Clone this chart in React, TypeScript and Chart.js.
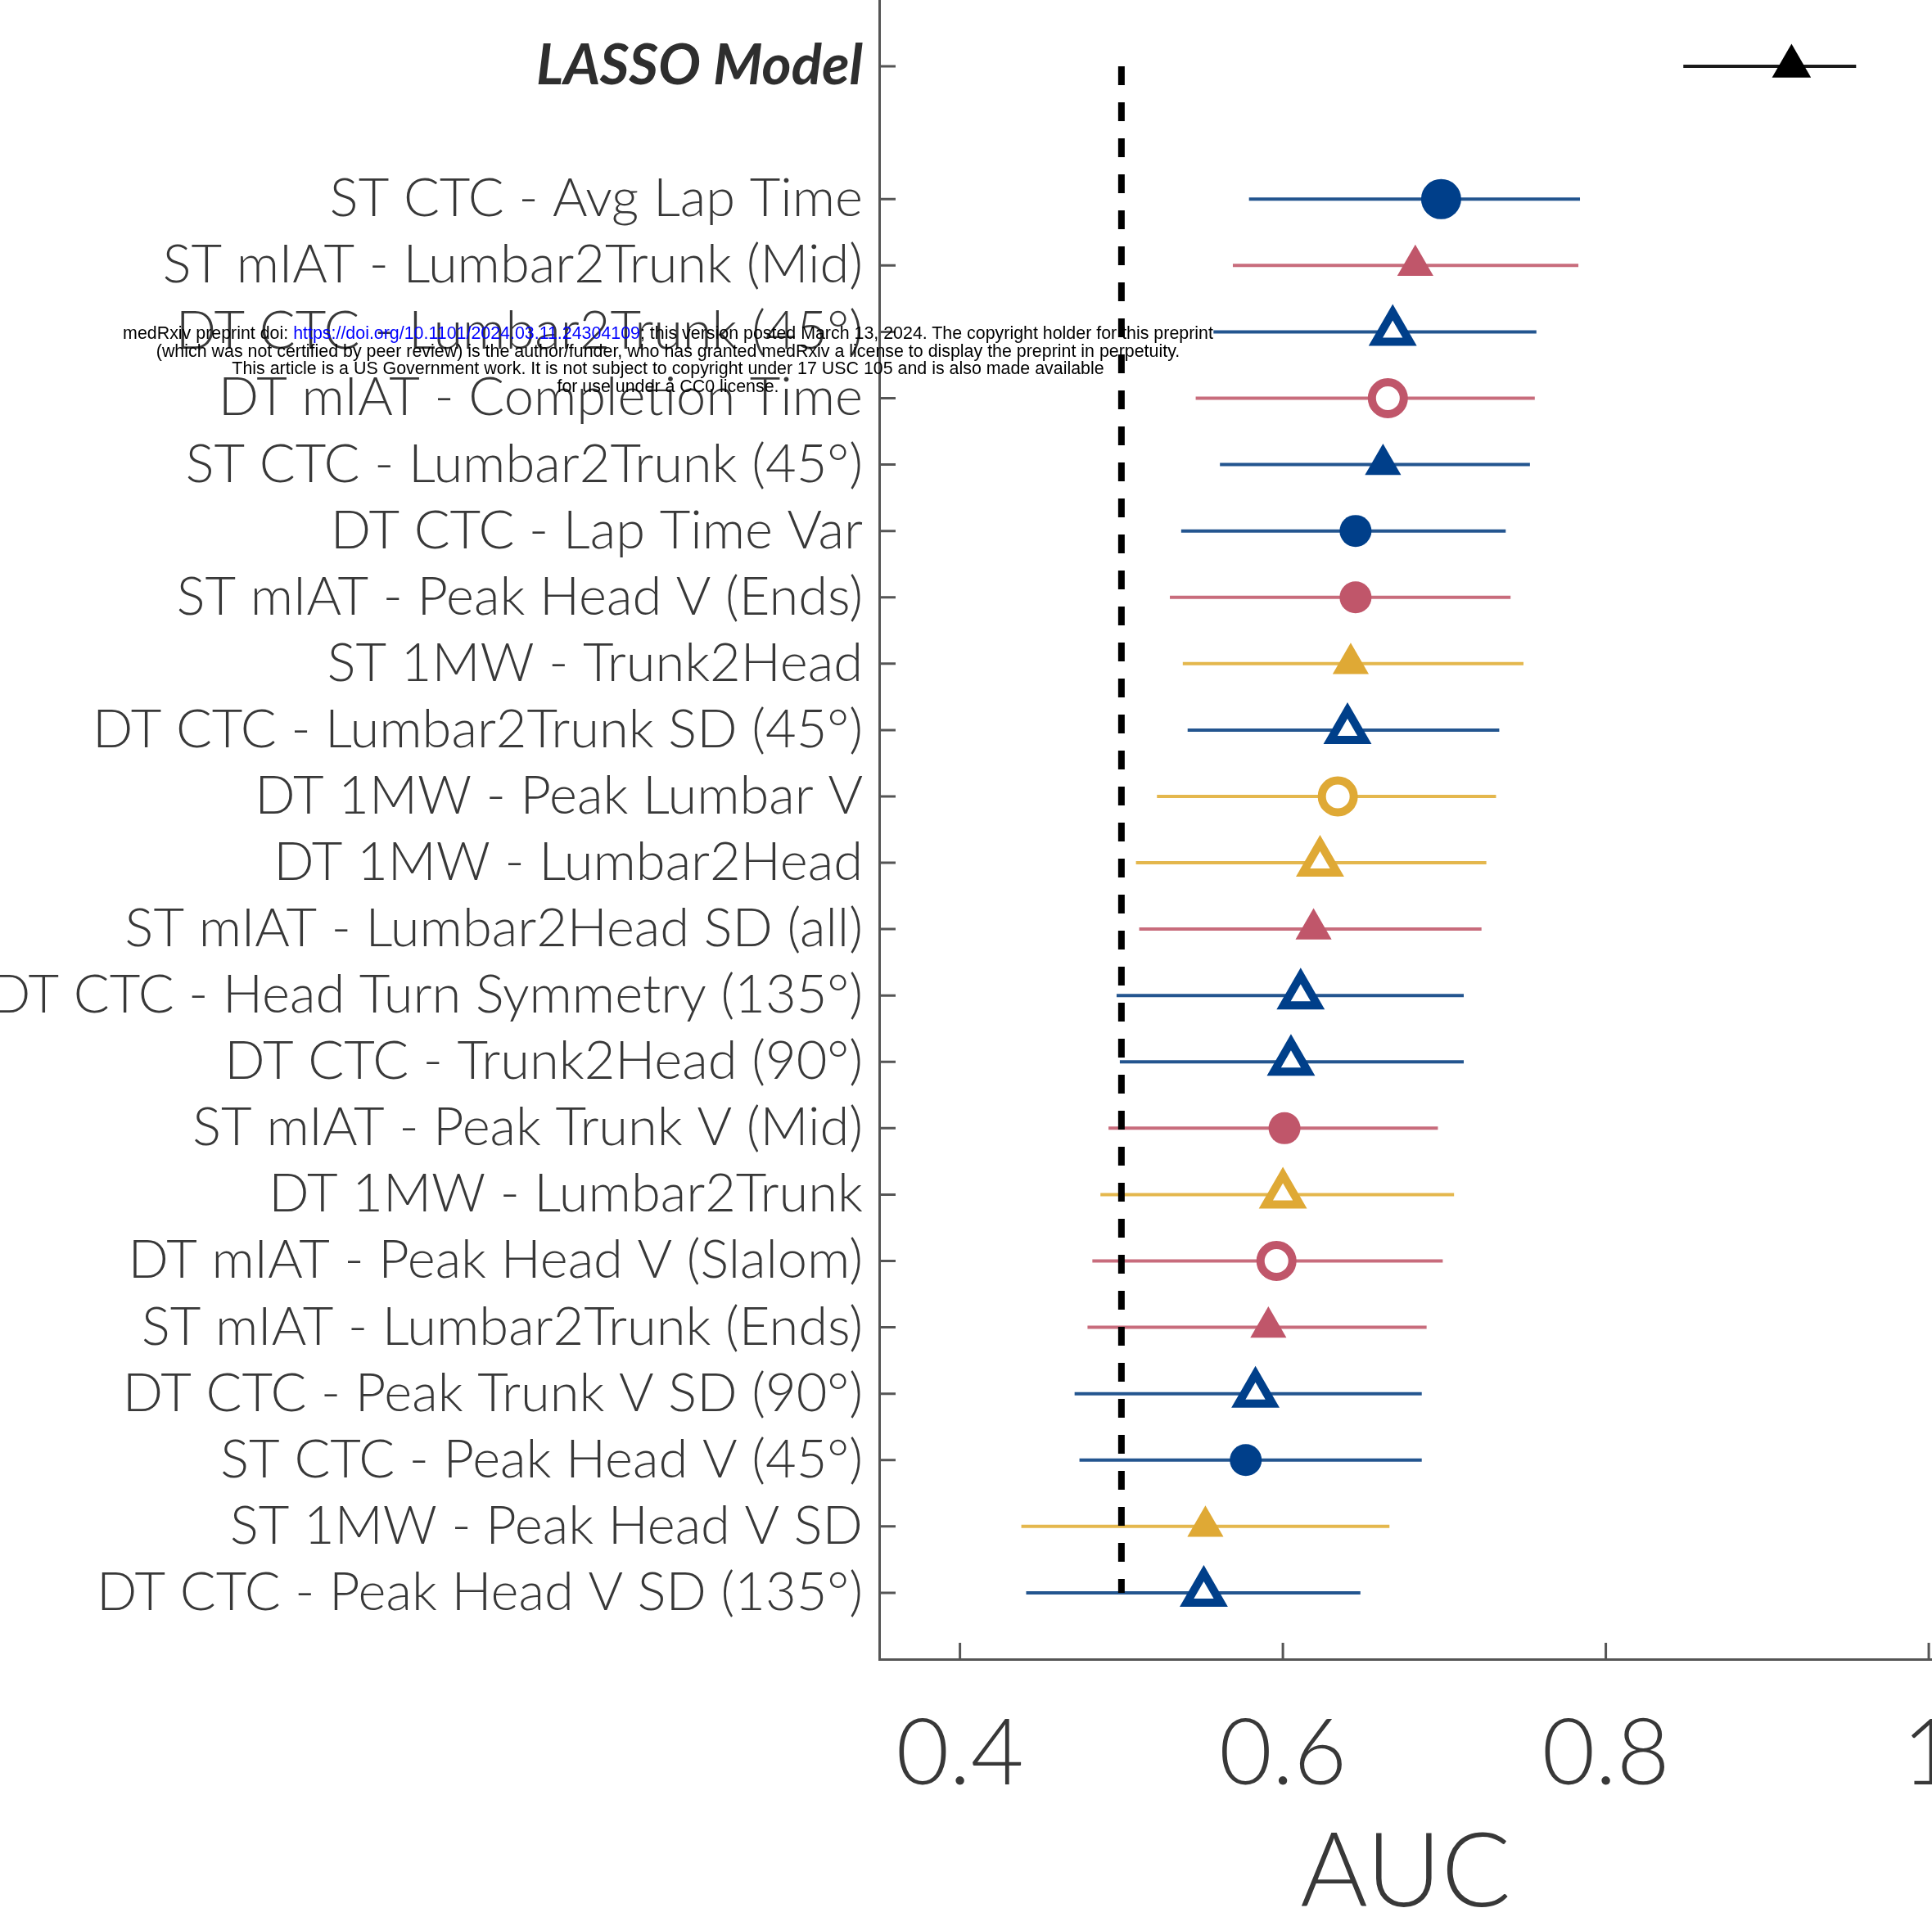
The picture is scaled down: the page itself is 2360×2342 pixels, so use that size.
import React, { useEffect, useRef } from 'react';
import { Chart, registerables } from 'chart.js';

Chart.register(...registerables);

// ---------- data ----------
const MODELS = [
  'LASSO Model',
  'ST CTC - Avg Lap Time',
  'ST mIAT - Lumbar2Trunk (Mid)',
  'DT CTC - Lumbar2Trunk (45°)',
  'DT mIAT - Completion Time',
  'ST CTC - Lumbar2Trunk (45°)',
  'DT CTC - Lap Time Var',
  'ST mIAT - Peak Head V (Ends)',
  'ST 1MW - Trunk2Head',
  'DT CTC - Lumbar2Trunk SD (45°)',
  'DT 1MW - Peak Lumbar V',
  'DT 1MW - Lumbar2Head',
  'ST mIAT - Lumbar2Head SD (all)',
  'DT CTC - Head Turn Symmetry (135°)',
  'DT CTC - Trunk2Head (90°)',
  'ST mIAT - Peak Trunk V (Mid)',
  'DT 1MW - Lumbar2Trunk',
  'DT mIAT - Peak Head V (Slalom)',
  'ST mIAT - Lumbar2Trunk (Ends)',
  'DT CTC - Peak Trunk V SD (90°)',
  'ST CTC - Peak Head V (45°)',
  'ST 1MW - Peak Head V SD',
  'DT CTC - Peak Head V SD (135°)',
];

const AUC = [
  0.915, 0.698, 0.682, 0.668, 0.665, 0.662, 0.645, 0.645, 0.642, 0.640, 0.634, 0.623,
  0.619, 0.611, 0.605, 0.601, 0.600, 0.596, 0.591, 0.583, 0.577, 0.552, 0.551,
];
const CI_LOW = [
  0.848, 0.579, 0.569, 0.557, 0.546, 0.561, 0.537, 0.530, 0.538, 0.541, 0.522, 0.509,
  0.511, 0.497, 0.499, 0.492, 0.487, 0.482, 0.479, 0.471, 0.474, 0.438, 0.441,
];
const CI_HIGH = [
  0.955, 0.784, 0.783, 0.757, 0.756, 0.753, 0.738, 0.741, 0.749, 0.734, 0.732, 0.726,
  0.723, 0.712, 0.712, 0.696, 0.706, 0.699, 0.689, 0.686, 0.686, 0.666, 0.648,
];
// marker kind: filled / open triangle or circle
const MARKER = [
  'triangle', 'circle', 'triangle', 'triangleOpen', 'circleOpen', 'triangle', 'circle',
  'circle', 'triangle', 'triangleOpen', 'circleOpen', 'triangleOpen', 'triangle',
  'triangleOpen', 'triangleOpen', 'circle', 'triangleOpen', 'circleOpen', 'triangle',
  'triangleOpen', 'circle', 'triangle', 'triangleOpen',
];
// row slot of each model on the y axis (one empty slot after the LASSO model)
const ROW = MODELS.map((_, k) => (k === 0 ? 0 : k + 1));
const ROW_LABELS = ['LASSO Model', '', ...MODELS.slice(1)];
const X_TICKS = [0.4, 0.6, 0.8, 1];
const X_MIN = 0.35;
const X_MAX = 1.002;
const CHANCE = 0.5;
const X_TITLE = 'AUC';

// ---------- styles ----------
const MARK_COLORS: Record<string, string> = {
  lasso: '#000000',
  CTC: '#003f8a',
  mIAT: '#c0566a',
  '1MW': '#dfa935',
};
const LINE_COLORS: Record<string, string> = {
  lasso: '#1a1a1a',
  CTC: '#23558f',
  mIAT: '#c86c7c',
  '1MW': '#e4b74d',
};
function groupOf(k: number): string {
  if (k === 0) return 'lasso';
  const name = MODELS[k];
  if (name.includes('CTC')) return 'CTC';
  if (name.includes('mIAT')) return 'mIAT';
  return '1MW';
}
const LABEL_FONT = 'Lato, "Liberation Sans", sans-serif';
const TEXT_COLOR = '#383838';
const AXIS_COLOR = '#555555';

const inwardTicks = {
  id: 'inwardTicks',
  afterDatasetsDraw(chart: any) {
    const { ctx, chartArea, scales } = chart;
    ctx.save();
    ctx.strokeStyle = AXIS_COLOR;
    ctx.lineWidth = 3;
    ctx.beginPath();
    ROW_LABELS.forEach((lab, i) => {
      if (!lab) return;
      const y = scales.y.getPixelForValue(i);
      ctx.moveTo(chartArea.left, y);
      ctx.lineTo(chartArea.left + 20, y);
    });
    X_TICKS.forEach((v) => {
      const x = scales.x.getPixelForValue(v);
      ctx.moveTo(x, chartArea.bottom);
      ctx.lineTo(x, chartArea.bottom - 20);
    });
    ctx.stroke();
    ctx.restore();
  },
};

export default function App() {
  const ref = useRef<HTMLCanvasElement | null>(null);

  useEffect(() => {
    document.body.style.margin = '0';
    const canvas = ref.current;
    if (!canvas) return;

    const barSets = MODELS.map((_, k) => ({
      type: 'scatter' as const,
      showLine: true,
      data: [
        { x: CI_LOW[k], y: ROW[k] },
        { x: CI_HIGH[k], y: ROW[k] },
      ],
      borderColor: LINE_COLORS[groupOf(k)],
      borderWidth: 4,
      pointRadius: 0,
      order: 3,
    }));

    const chanceSet = {
      type: 'scatter' as const,
      showLine: true,
      data: [
        { x: CHANCE, y: ROW[0] },
        { x: CHANCE, y: ROW[ROW.length - 1] },
      ],
      borderColor: '#000000',
      borderWidth: 8,
      borderDash: [23, 21],
      pointRadius: 0,
      order: 2,
    };

    const markerSet = {
      type: 'scatter' as const,
      data: MODELS.map((_, k) => ({ x: AUC[k], y: ROW[k] })),
      pointStyle: MARKER.map((m) => (m.startsWith('triangle') ? 'triangle' : 'circle')),
      pointRadius: MARKER.map((m, k) => {
        if (k === 0) return 27.5;
        if (k === 1) return 24.5;
        if (m === 'triangle') return 25.5;
        if (m === 'triangleOpen') return 24;
        return 19.5;
      }),
      pointBackgroundColor: MARKER.map((m, k) =>
        m.endsWith('Open') ? '#ffffff' : MARK_COLORS[groupOf(k)]
      ),
      pointBorderColor: MODELS.map((_, k) => MARK_COLORS[groupOf(k)]),
      pointBorderWidth: MARKER.map((m) => (m.endsWith('Open') ? 10 : 0)),
      order: 1,
    };

    const chart = new Chart(canvas, {
      type: 'scatter',
      data: { datasets: [...barSets, chanceSet, markerSet] as any },
      plugins: [inwardTicks],
      options: {
        animation: false,
        responsive: false,
        devicePixelRatio: 1,
        layout: { padding: 0, autoPadding: false },
        plugins: {
          legend: { display: false },
          tooltip: { enabled: false },
        },
        scales: {
          x: {
            type: 'linear',
            position: 'bottom',
            min: X_MIN,
            max: X_MAX,
            afterBuildTicks: (scale: any) => {
              scale.ticks = [X_MIN, ...X_TICKS, X_MAX].map((v) => ({ value: v }));
            },
            afterFit: (scale: any) => {
              scale.height = 315;
              scale.paddingLeft = 0;
              scale.paddingRight = 0;
            },
            grid: { display: false, drawTicks: false },
            border: { display: true, color: AXIS_COLOR, width: 3 },
            ticks: {
              padding: 50,
              maxRotation: 0,
              autoSkip: false,
              color: TEXT_COLOR,
              font: { family: LABEL_FONT, size: 112, weight: '300' },
              callback: (v: any) => (X_TICKS.includes(v) ? String(v) : null),
            },
            title: {
              display: true,
              text: X_TITLE,
              color: TEXT_COLOR,
              font: { family: LABEL_FONT, size: 126, weight: '300', lineHeight: 0.85 },
              padding: { top: 0, bottom: 0 },
            },
          },
          y: {
            type: 'linear',
            reverse: true,
            min: -1,
            max: ROW_LABELS.length,
            afterBuildTicks: (scale: any) => {
              const vals = [-1, ...ROW_LABELS.map((_, i) => i), ROW_LABELS.length];
              scale.ticks = vals.map((v) => ({ value: v }));
            },
            afterFit: (scale: any) => {
              scale.width = 1074;
              scale.paddingTop = 0;
              scale.paddingBottom = 0;
            },
            grid: { display: false, drawTicks: false },
            border: { display: true, color: AXIS_COLOR, width: 3 },
            ticks: {
              padding: 20,
              autoSkip: false,
              color: (ctx: any) => (ctx.tick && ctx.tick.value === 0 ? '#2e2e2e' : TEXT_COLOR),
              font: (ctx: any) =>
                ctx.tick && ctx.tick.value === 0
                  ? { family: LABEL_FONT, size: 69, style: 'italic', weight: 'bold' }
                  : { family: LABEL_FONT, size: 65, weight: '300' },
              callback: (v: any) => {
                const lab = ROW_LABELS[v as number];
                return lab === undefined ? null : lab;
              },
            },
          },
        },
      },
    });

    return () => chart.destroy();
  }, []);

  return (
    <div style={{ position: 'relative', width: 2360, height: 2342, overflow: 'hidden' }}>
      <canvas ref={ref} width={2360} height={2342} style={{ display: 'block' }} />
      <div
        style={{
          position: 'absolute',
          left: 0,
          top: 397,
          width: 1632,
          textAlign: 'center',
          fontFamily: '"Liberation Sans", Arial, sans-serif',
          fontSize: 21.4,
          lineHeight: '21.7px',
          color: '#000',
          whiteSpace: 'pre',
        }}
      >
        <div>
          medRxiv preprint doi:{' '}
          <span style={{ color: '#0000ff' }}>https://doi.org/10.1101/2024.03.11.24304109</span>
          ; this version posted March 13, 2024. The copyright holder for this preprint
        </div>
        <div>
          (which was not certified by peer review) is the author/funder, who has granted medRxiv a license to display the preprint in perpetuity.
        </div>
        <div>
          This article is a US Government work. It is not subject to copyright under 17 USC 105 and is also made available
        </div>
        <div>for use under a CC0 license.</div>
      </div>
    </div>
  );
}
